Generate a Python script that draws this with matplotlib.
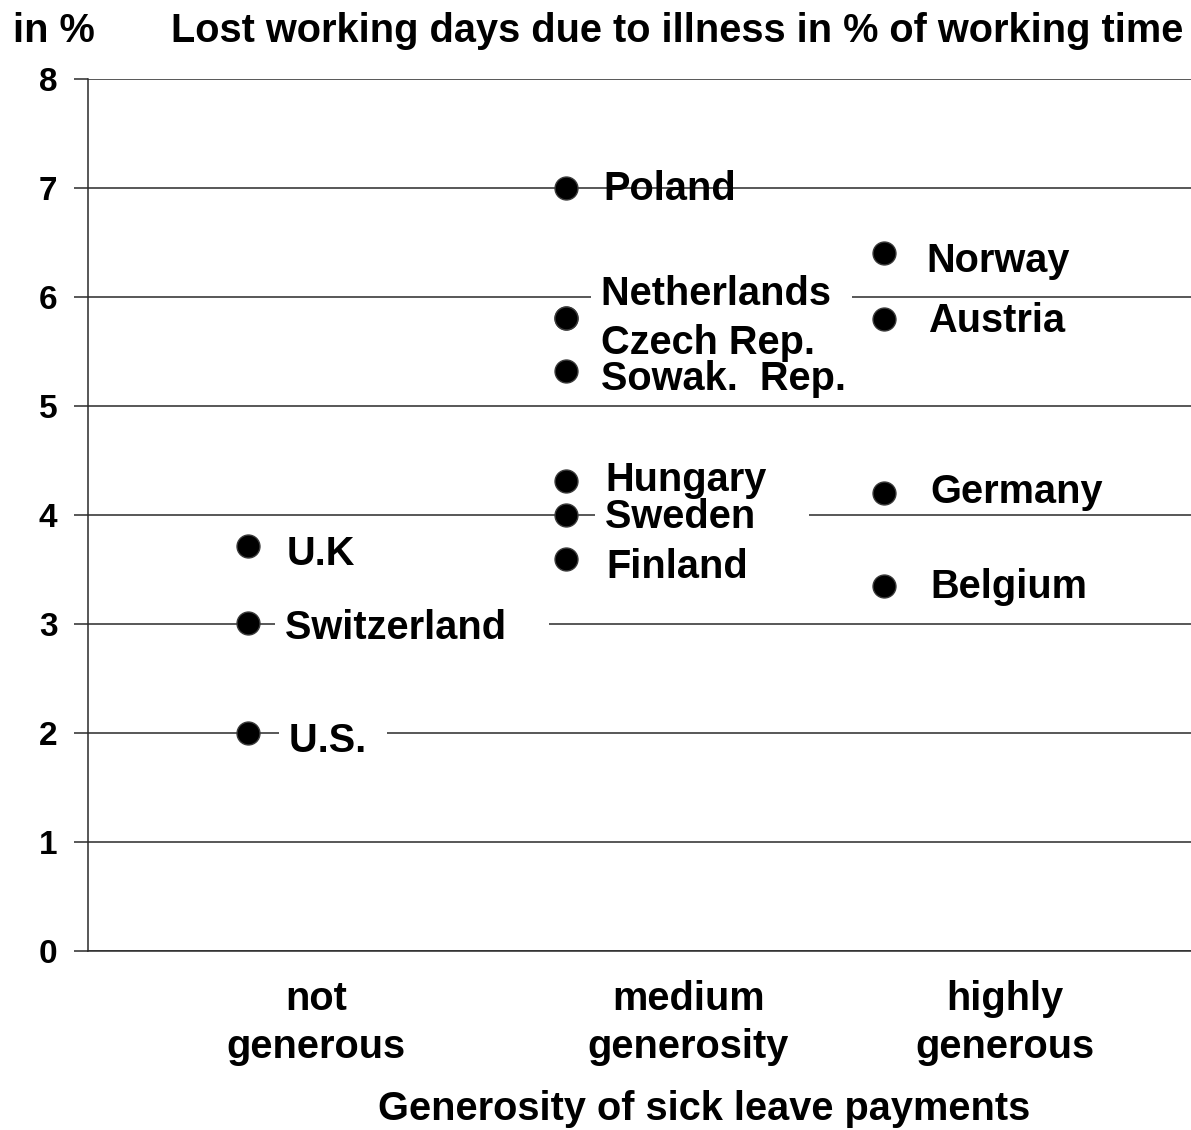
import matplotlib
matplotlib.use("Agg")
import matplotlib.pyplot as plt
import matplotlib.transforms as mtransforms

# ---------------- data ----------------
categories = ["not\ngenerous", "medium\ngenerosity", "highly\ngenerous"]
countries = ["U.K", "Switzerland", "U.S.",
             "Poland", "Netherlands", "Czech Rep.", "Sowak.  Rep.",
             "Hungary", "Sweden", "Finland",
             "Norway", "Austria", "Germany", "Belgium"]
country_group = [0, 0, 0,
                 1, 1, 1, 1, 1, 1, 1,
                 2, 2, 2, 2]
lost_days_pct = [3.72, 3.01, 2.00,
                 7.00, 5.81, 5.81, 5.32, 4.31, 4.00, 3.60,
                 6.40, 5.80, 4.20, 3.35]
y_ticks = [0, 1, 2, 3, 4, 5, 6, 7, 8]

title = "Lost working days due to illness in % of working time"
y_unit = "in %"
x_title = "Generosity of sick leave payments"

# ---------------- layout / style ----------------
FONT = "Liberation Sans"
plt.rcParams["font.family"] = [FONT, "DejaVu Sans"]
plt.rcParams["font.weight"] = "bold"
FS = 28.6

# label offsets in pixels (dx to left edge, dy to baseline; up positive)
label_offsets = [(39, -19), (37, -16), (41, -19),
                 (37, -12), (35, 13), (35, -36), (35, -19),
                 (39, -10), (39, -13), (40, -19),
                 (42, -19), (44, -13), (46, -10), (46, -12)]
# labels that blank out the grid line behind them (trailing spaces widen box)
label_box_suffix = {"Netherlands": " ", "Sweden": "    ",
                    "Switzerland": "   ", "U.S.": " "}
cat_label_shift = [0.214, 0.384, 0.38]

W, H = 1191, 1130
fig = plt.figure(figsize=(W / 100, H / 100), dpi=100)
ax = fig.add_axes([88 / W, 179 / H, (W - 88) / W, (951 - 79) / H])

ax.set_xlim(0.497, 3.965)
ax.set_ylim(0, 8)

xs = [g + 1 for g in country_group]
ax.plot(xs, lost_days_pct, linestyle="none", marker="o", markersize=16.5,
        markerfacecolor="black", markeredgecolor="#3a3a3a",
        markeredgewidth=1.0, zorder=6)

for name, x, y, (dx, dy) in zip(countries, xs, lost_days_pct, label_offsets):
    kw = {}
    text = name
    z = 5
    if name in label_box_suffix:
        text = name + label_box_suffix[name]
        kw["bbox"] = dict(boxstyle="square,pad=0.25", facecolor="white",
                          edgecolor="none")
        z = 3
    ax.annotate(text, xy=(x, y), xytext=(dx, dy), textcoords="offset pixels",
                ha="left", va="baseline", fontsize=FS, fontweight="bold",
                color="black", zorder=z, **kw)

# grid & axes
ax.set_yticks(y_ticks)
ax.set_yticklabels([str(t) for t in y_ticks], fontsize=24, fontweight="bold")
ax.yaxis.grid(True, color="#2a2a2a", linewidth=1.1, zorder=0)
ax.set_axisbelow(True)
ax.tick_params(axis="y", length=10, width=1.1, color="#2a2a2a", pad=12)
ax.set_xticks([])
for s in ["top", "right"]:
    ax.spines[s].set_visible(False)
ax.spines["left"].set_color("#2a2a2a")
ax.spines["left"].set_linewidth(1.1)
ax.spines["bottom"].set_color("#2a2a2a")
ax.spines["bottom"].set_linewidth(1.1)

# category labels (two lines each)
trans = mtransforms.blended_transform_factory(ax.transData, fig.transFigure)
for i, (cat, sh) in enumerate(zip(categories, cat_label_shift)):
    ax.text(i + 1 + sh, (H - 1058) / H, cat, transform=trans, ha="center",
            va="baseline", fontsize=FS, fontweight="bold", linespacing=1.32,
            multialignment="center")

fig.text(13 / W, (H - 42) / H, y_unit, ha="left", va="baseline",
         fontsize=FS, fontweight="bold")
fig.text(171 / W, (H - 42) / H, title, ha="left", va="baseline",
         fontsize=FS, fontweight="bold")
fig.text(704 / W, (H - 1120) / H, x_title, ha="center", va="baseline",
         fontsize=FS, fontweight="bold")

fig.savefig("out.png", dpi=100, facecolor="white")
